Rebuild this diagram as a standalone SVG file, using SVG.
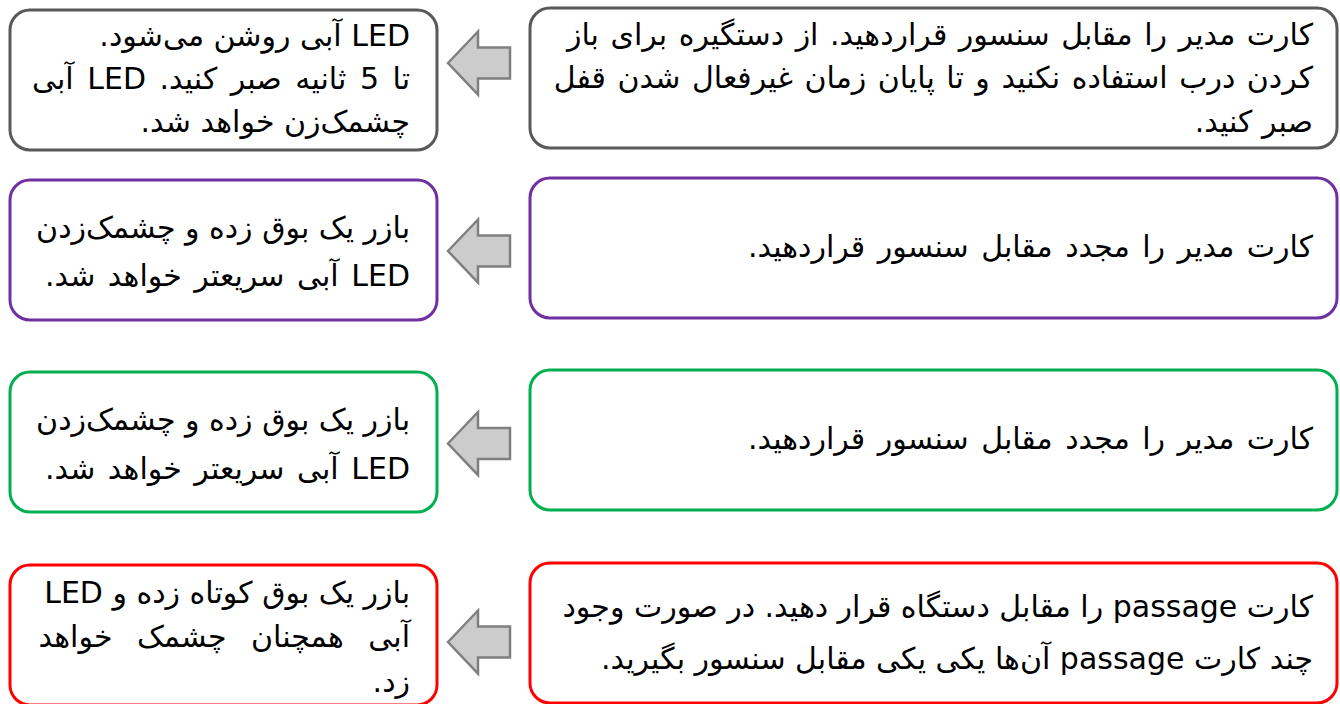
<svg xmlns="http://www.w3.org/2000/svg" width="1340" height="704" viewBox="0 0 1340 704">
<style>
.box{fill:#ffffff;stroke-width:3}
.g{stroke:#595959}.p{stroke:#7030A0}.gr{stroke:#00B050}.r{stroke:#FF0000}
.t{font-family:"DejaVu Sans",sans-serif;font-size:30px;fill:#000000;direction:rtl;unicode-bidi:embed;text-anchor:start}
.arr{fill:#cccccc;stroke:#7f7f7f;stroke-width:2.5;stroke-linejoin:miter}
</style>
<rect width="1340" height="704" fill="#ffffff"/>
<g id="connectors">
<polygon class="arr" points="448,63 478,31.5 478,47.5 510,47.5 510,78.5 478,78.5 478,94.5"/>
<polygon class="arr" points="448,251 478,219.5 478,235.5 510,235.5 510,266.5 478,266.5 478,282.5"/>
<polygon class="arr" points="448,443.5 478,412 478,428 510,428 510,459 478,459 478,475"/>
<polygon class="arr" points="448,642 478,610.5 478,626.5 510,626.5 510,657.5 478,657.5 478,673.5"/>
</g>
<g id="node-r1">
<rect class="box g" x="530" y="8" width="807" height="140" rx="20"/>
<text class="t" x="1313" y="45" word-spacing="2">کارت مدیر را مقابل سنسور قراردهید. از دستگیره برای باز</text>
<text class="t" x="1313" y="88" word-spacing="2">کردن درب استفاده نکنید و تا پایان زمان غیرفعال شدن قفل</text>
<text class="t" x="1313" y="132">صبر کنید.</text>
</g>
<g id="node-l1">
<rect class="box g" x="10" y="10" width="427" height="140" rx="20"/>
<text class="t" x="410" y="46">LED آبی روشن می‌شود.</text>
<text class="t" x="410" y="89" word-spacing="4">تا 5 ثانیه صبر کنید. LED آبی</text>
<text class="t" x="410" y="132">چشمک‌زن خواهد شد.</text>
</g>
<g id="node-r2">
<rect class="box p" x="530" y="178" width="807" height="140" rx="20"/>
<text class="t" x="1313" y="257" word-spacing="3">کارت مدیر را مجدد مقابل سنسور قراردهید.</text>
</g>
<g id="node-l2">
<rect class="box p" x="10" y="180" width="427" height="140" rx="20"/>
<text class="t" x="410" y="238">بازر یک بوق زده و چشمک‌زدن</text>
<text class="t" x="410" y="286" word-spacing="3">LED آبی سریعتر خواهد شد.</text>
</g>
<g id="node-r3">
<rect class="box gr" x="530" y="370" width="807" height="140" rx="20"/>
<text class="t" x="1313" y="449" word-spacing="3">کارت مدیر را مجدد مقابل سنسور قراردهید.</text>
</g>
<g id="node-l3">
<rect class="box gr" x="10" y="372" width="427" height="140" rx="20"/>
<text class="t" x="410" y="430">بازر یک بوق زده و چشمک‌زدن</text>
<text class="t" x="410" y="479" word-spacing="3">LED آبی سریعتر خواهد شد.</text>
</g>
<g id="node-r4">
<rect class="box r" x="530" y="563" width="807" height="140" rx="20"/>
<text class="t" x="1313" y="617">کارت passage را مقابل دستگاه قرار دهید. در صورت وجود</text>
<text class="t" x="1313" y="669">چند کارت passage آن‌ها یکی یکی مقابل سنسور بگیرید.</text>
</g>
<g id="node-l4">
<rect class="box r" x="10" y="565" width="427" height="140" rx="20"/>
<text class="t" x="410" y="603">بازر یک بوق کوتاه زده و LED</text>
<text class="t" x="410" y="647" word-spacing="15">آبی همچنان چشمک خواهد</text>
<text class="t" x="410" y="692">زد.</text>
</g>
</svg>
